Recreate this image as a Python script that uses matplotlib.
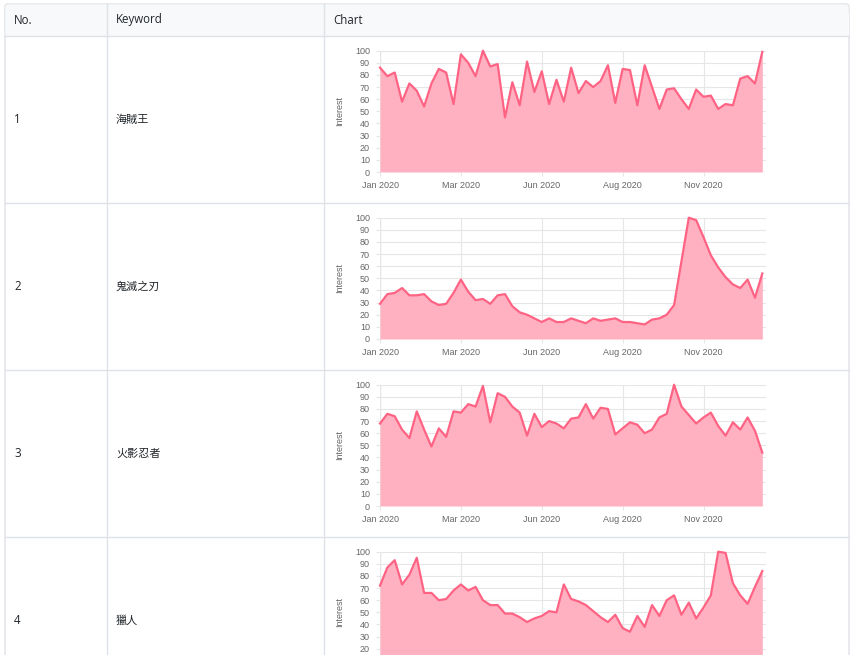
import numpy as np
import matplotlib
matplotlib.use("Agg")
import matplotlib.pyplot as plt
from matplotlib.patches import FancyBboxPatch, Rectangle

# weekly interest values, 53 weeks of 2020
one_piece = [86, 79, 82, 58, 73, 67, 54, 73, 85, 82, 56, 97, 90, 79, 100, 87, 89, 45,
             74, 55, 91, 66, 83, 56, 76, 58, 86, 65, 75, 70, 75, 88, 57, 85, 84, 55,
             88, 70, 52, 68, 69, 60, 52, 68, 62, 63, 52, 56, 55, 77, 79, 73, 99]
kimetsu = [29, 37, 38, 42, 36, 36, 37, 31, 28, 29, 38, 49, 39, 32, 33, 29, 36, 37,
           27, 22, 20, 17, 14, 17, 14, 14, 17, 15, 13, 17, 15, 16, 17, 14, 14, 13,
           12, 16, 17, 20, 28, 64, 100, 98, 84, 69, 59, 51, 45, 42, 49, 34, 54]
naruto = [68, 76, 74, 63, 56, 78, 63, 49, 64, 57, 78, 77, 84, 82, 99, 69, 93, 90,
          82, 77, 58, 76, 65, 70, 68, 64, 72, 73, 84, 72, 81, 80, 59, 64, 69, 67,
          60, 63, 73, 76, 100, 82, 75, 68, 73, 77, 66, 58, 69, 63, 73, 62, 44]
hunter = [72, 87, 93, 73, 81, 95, 66, 66, 60, 61, 68, 73, 68, 71, 60, 56, 56, 49,
          49, 46, 42, 45, 47, 51, 50, 73, 61, 59, 56, 51, 46, 42, 48, 37, 34, 47,
          38, 56, 47, 60, 64, 48, 58, 45, 54, 64, 100, 99, 74, 64, 57, 71, 84]

numbers = ["1", "2", "3", "4"]
keywords = ["海賊王", "鬼滅之刃", "火影忍者", "獵人"]
series = [one_piece, kimetsu, naruto, hunter]
headers = ["No.", "Keyword", "Chart"]
tick_idx = [0, 11, 22, 33, 44]
tick_labels = ["Jan 2020", "Mar 2020", "Jun 2020", "Aug 2020", "Nov 2020"]
y_ticks = list(range(0, 101, 10))

W, H = 855, 655
fig = plt.figure(figsize=(W / 100, H / 100), dpi=100)
fig.patch.set_facecolor("white")

# table drawn in pixel coords
tab = fig.add_axes([0, 0, 1, 1])
tab.set_xlim(0, W)
tab.set_ylim(H, 0)
tab.axis("off")

border = "#dee2e6"
txt_col = "#212529"
left, right, top = 5, 849, 4
head_bottom = 36
row_h = 167

tab.add_patch(FancyBboxPatch((left, top), right - left, 800, boxstyle="round,pad=0,rounding_size=3",
                             facecolor="white", edgecolor=border, lw=1))
tab.add_patch(FancyBboxPatch((left + 0.5, top + 0.5), right - left - 1, head_bottom - top,
                             boxstyle="round,pad=0,rounding_size=3", facecolor="#f8f9fa", edgecolor="none"))
tab.add_patch(Rectangle((left + 0.5, top + 10), right - left - 1, head_bottom - top - 10,
                        facecolor="#f8f9fa", edgecolor="none"))
tab.plot([left, right], [head_bottom, head_bottom], color=border, lw=1)
for r in range(1, 4):
    y = head_bottom + row_h * r
    tab.plot([left, right], [y, y], color=border, lw=1)
for x in [107, 324]:
    tab.plot([x, x], [top, H], color=border, lw=1)

col_x = [14, 116, 333]
for x, h in zip(col_x, headers):
    tab.text(x, 20, h, fontsize=8.3, color=txt_col, va="center", ha="left",
             family=["Open Sans", "DejaVu Sans"])

for r in range(4):
    yc = head_bottom + row_h * r + row_h / 2
    tab.text(col_x[0], yc, numbers[r], fontsize=8.3, color=txt_col, va="center", ha="left",
             family=["Open Sans", "DejaVu Sans"])
    tab.text(col_x[1], yc, keywords[r], fontsize=8, color=txt_col, va="center", ha="left",
             family=["Noto Sans CJK TC", "DejaVu Sans"])

# the small area charts
line_col = "#ff6384"
fill_col = "#ffb1c1"
grid_col = "#e6e6e6"
zero_col = "#c4c4c4"
ax_left, ax_right = 380, 766
x = np.arange(len(one_piece))

for r, vals in enumerate(series):
    top_px = 50.7 + row_h * r
    bot_px = 172 + row_h * r
    ax = fig.add_axes([ax_left / W, 1 - bot_px / H, (ax_right - ax_left) / W, (bot_px - top_px) / H])
    ax.set_facecolor("none")
    ax.fill_between(x, vals, 0, color=fill_col, lw=0, zorder=2)
    ax.plot(x, vals, color=line_col, lw=1.6, zorder=3, clip_on=False)
    ax.set_xlim(0, 52.5)
    ax.set_ylim(0, 100)
    ax.set_xticks(tick_idx)
    ax.set_yticks(y_ticks)
    if r < 3:
        ax.set_xticklabels(tick_labels)
        ax.set_yticklabels([str(v) for v in y_ticks])
    else:
        # last row runs past the bottom of the page: only the visible labels
        ax.set_xticklabels([""] * len(tick_idx))
        ax.set_yticklabels([str(v) if v >= 20 else "" for v in y_ticks])
    for s in ax.spines.values():
        s.set_visible(False)
    ax.grid(True, color=grid_col, lw=0.8, zorder=0)
    ax.axhline(0, color=zero_col, lw=0.8, zorder=1)
    ax.axvline(0, color=zero_col, lw=0.8, zorder=1)
    ax.tick_params(axis="both", length=3, width=0.8, color=grid_col, labelcolor="#666666",
                   labelsize=6.5)
    ax.tick_params(axis="y", pad=4.2)
    ax.tick_params(axis="x", pad=3.2)
    for lab in ax.get_xticklabels() + ax.get_yticklabels():
        lab.set_family(["Liberation Sans", "DejaVu Sans"])
    ax.text(-0.104, 0.5, "Interest", transform=ax.transAxes, rotation=90, ha="center", va="center",
            fontsize=6.5, color="#666666", family=["Liberation Sans", "DejaVu Sans"])

fig.savefig("out.png", dpi=100)
